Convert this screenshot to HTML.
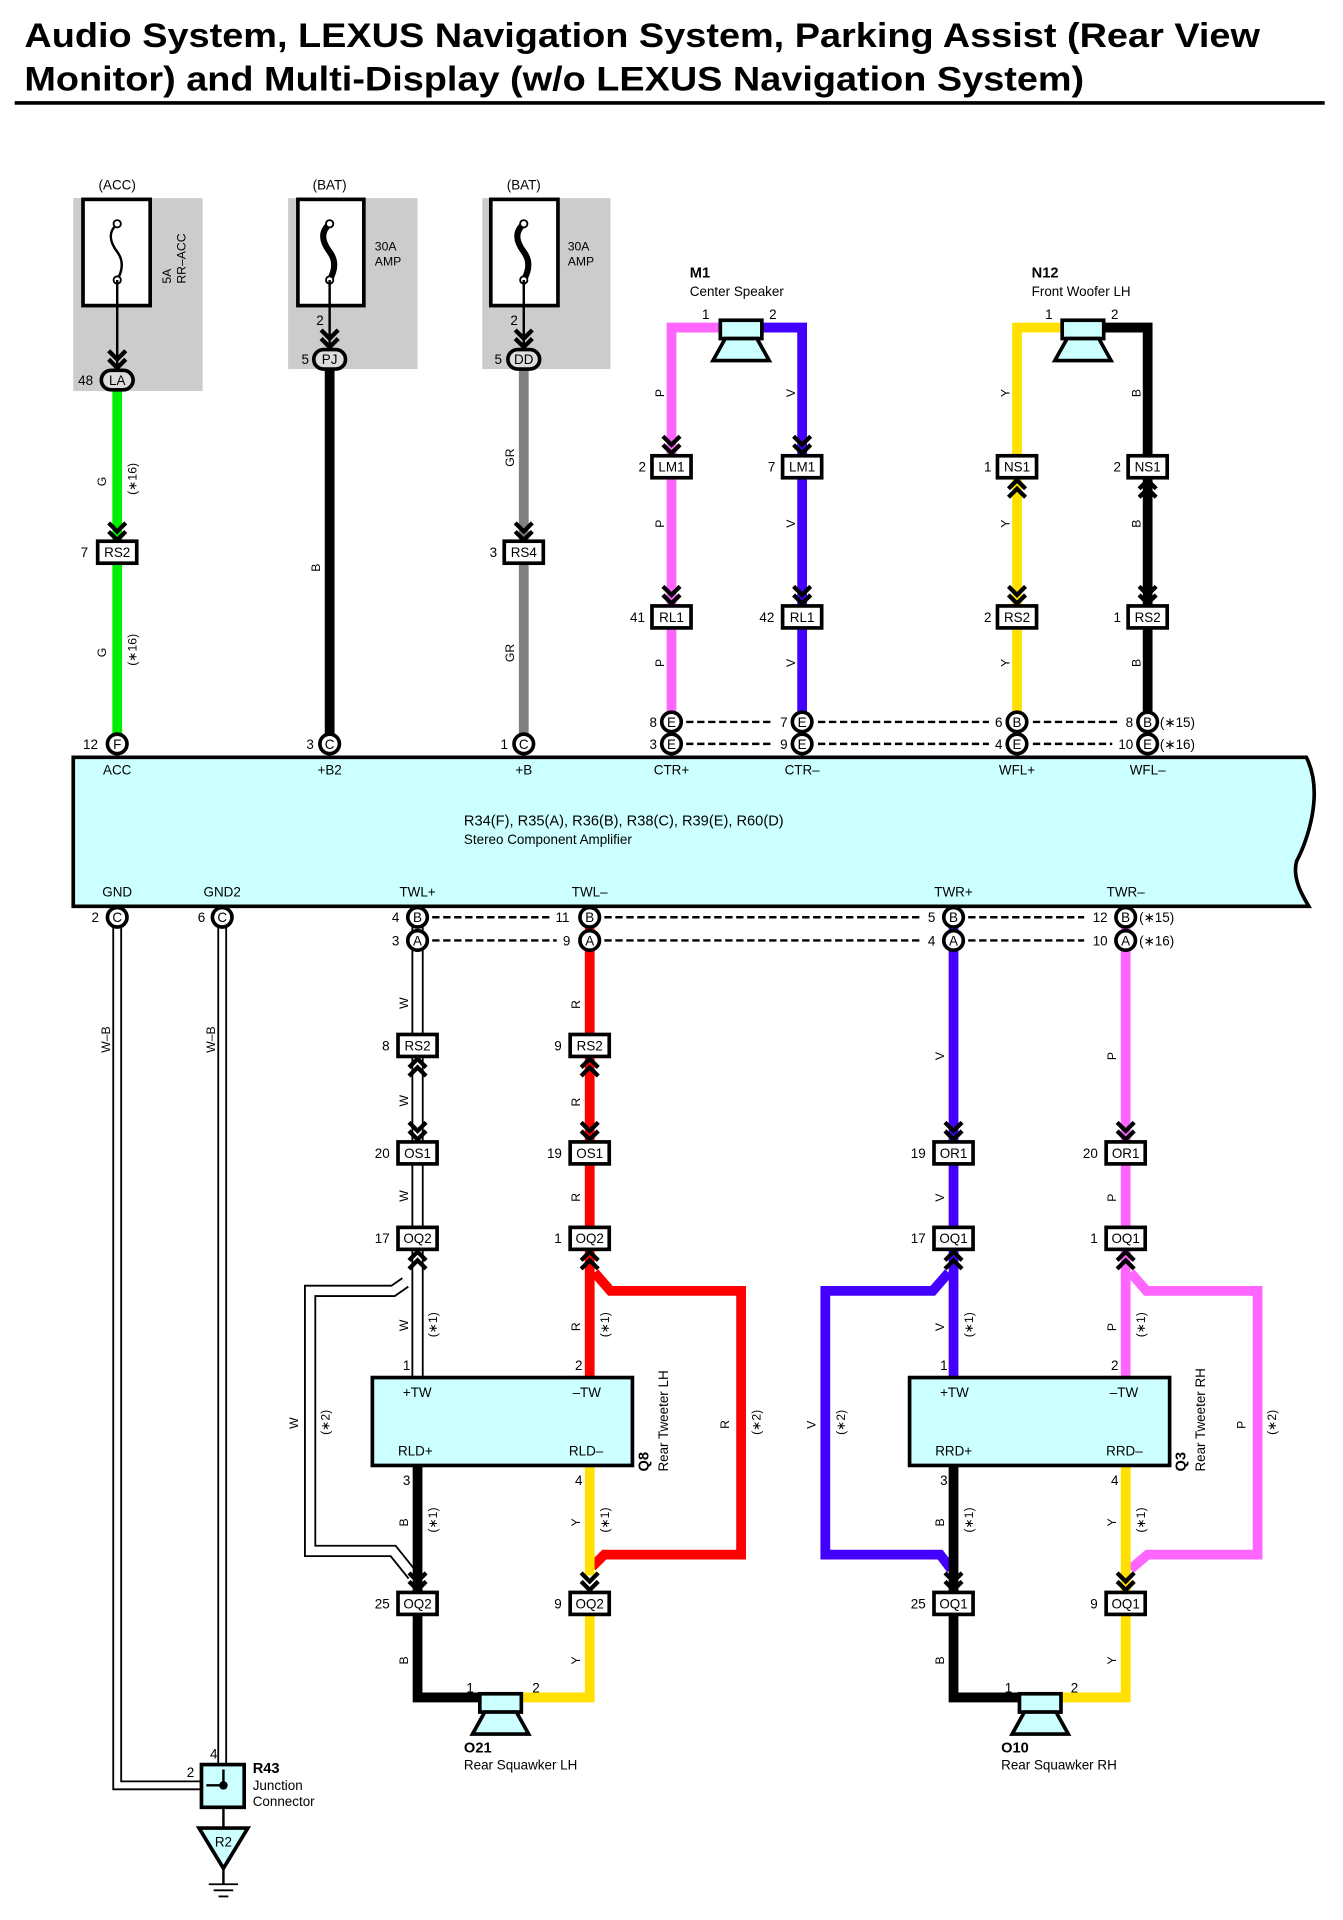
<!DOCTYPE html>
<html><head><meta charset="utf-8"><style>
html,body{margin:0;padding:0;background:#fff}
svg{display:block}
text{font-family:"Liberation Sans",sans-serif;fill:#000}
.t{font-size:11px}
.c{font-size:11px;text-anchor:middle}
.s{font-size:10px}
</style></head><body>
<svg width="1343" height="1920" viewBox="0 0 1100 1572" xmlns="http://www.w3.org/2000/svg">
<defs>
<path id="chd" d="M-7,-17 L0,-10 L7,-17 M-7,-10 L0,-3 L7,-10" fill="none" stroke="#000" stroke-width="3.5"/>
<path id="chu" d="M-7,17 L0,10 L7,17 M-7,10 L0,3 L7,10" fill="none" stroke="#000" stroke-width="3.5"/>
<rect id="cb" x="-16" y="-9" width="32" height="18" fill="#fff" stroke="#000" stroke-width="3"/>
<circle id="cc" r="8" fill="#fff" stroke="#000" stroke-width="3"/>
<rect id="co" x="-13" y="-8" width="26" height="16" rx="8" fill="#ddd" stroke="#000" stroke-width="3"/>
<g id="spk"><rect x="-17" y="-13" width="34" height="15" fill="#ccffff" stroke="#000" stroke-width="3"/><path d="M-13,2 L13,2 L23,20 L-23,20 Z" fill="#ccffff" stroke="#000" stroke-width="3"/></g>
</defs>

<!-- title -->
<text x="20" y="38" textLength="1012" lengthAdjust="spacingAndGlyphs" style="font-size:28px;font-weight:bold">Audio System, LEXUS Navigation System, Parking Assist (Rear View</text>
<text x="20" y="74" textLength="868" lengthAdjust="spacingAndGlyphs" style="font-size:28px;font-weight:bold">Monitor) and Multi-Display (w/o LEXUS Navigation System)</text>
<line x1="12" y1="84" x2="1085" y2="84" stroke="#000" stroke-width="3"/>

<!-- fuses -->
<rect x="60" y="162" width="106" height="158" fill="#ccc"/>
<rect x="236" y="162" width="106" height="140" fill="#ccc"/>
<rect x="395" y="162" width="105" height="140" fill="#ccc"/>
<text class="c" x="96" y="155">(ACC)</text>
<text class="c" x="270" y="155">(BAT)</text>
<text class="c" x="429" y="155">(BAT)</text>
<rect x="68" y="163" width="55" height="87" fill="#fff" stroke="#000" stroke-width="3"/>
<rect x="244" y="163" width="54" height="87" fill="#fff" stroke="#000" stroke-width="3"/>
<rect x="402" y="163" width="55" height="87" fill="#fff" stroke="#000" stroke-width="3"/>
<path d="M96,183 C88,190 90,198 96,206 C102,214 100,222 96,229" fill="none" stroke="#000" stroke-width="2"/>
<circle cx="96" cy="183" r="3" fill="#fff" stroke="#000" stroke-width="1.5"/><circle cx="96" cy="229" r="3" fill="#fff" stroke="#000" stroke-width="1.5"/>
<path d="M270,183 C262,190 264,198 270,206 C276,214 274,222 270,229" fill="none" stroke="#000" stroke-width="5"/>
<path d="M429,183 C421,190 423,198 429,206 C435,214 433,222 429,229" fill="none" stroke="#000" stroke-width="5"/>
<circle cx="270" cy="183" r="3" fill="#fff" stroke="#000" stroke-width="1.5"/><circle cx="270" cy="229" r="3" fill="#fff" stroke="#000" stroke-width="1.5"/>
<circle cx="429" cy="183" r="3" fill="#fff" stroke="#000" stroke-width="1.5"/><circle cx="429" cy="229" r="3" fill="#fff" stroke="#000" stroke-width="1.5"/>
<text class="s" transform="translate(140,232) rotate(-90)">5A</text>
<text class="s" transform="translate(152,232) rotate(-90)">RR–ACC</text>
<text class="s" x="307" y="205">30A</text><text class="s" x="307" y="217">AMP</text>
<text class="s" x="465" y="205">30A</text><text class="s" x="465" y="217">AMP</text>
<line x1="96" y1="229" x2="96" y2="300" stroke="#000" stroke-width="2"/>
<line x1="270" y1="229" x2="270" y2="285" stroke="#000" stroke-width="2"/>
<line x1="429" y1="229" x2="429" y2="285" stroke="#000" stroke-width="2"/>
<text class="t" x="259" y="266">2</text><text class="t" x="418" y="266">2</text>

<!-- top wires -->
<g fill="none" stroke-width="8">
<line x1="96" y1="318" x2="96" y2="602" stroke="#00ee00"/>
<line x1="270" y1="300" x2="270" y2="602" stroke="#000"/>
<line x1="429" y1="300" x2="429" y2="602" stroke="#808080"/>
<path d="M550,585 V268 H590" stroke="#ff66ff"/>
<path d="M657,585 V268 H622" stroke="#4400ff"/>
<path d="M833,585 V268 H870" stroke="#ffe000"/>
<path d="M940,585 V268 H903" stroke="#000"/>
</g>
<use href="#chd" x="96" y="304"/><use href="#chd" x="270" y="287"/><use href="#chd" x="429" y="287"/>
<use href="#co" x="96" y="311"/><use href="#co" x="270" y="294"/><use href="#co" x="429" y="294"/>
<text class="c" x="96" y="315">LA</text><text class="c" x="270" y="298">PJ</text><text class="c" x="429" y="298">DD</text>
<text class="t" x="64" y="315">48</text><text class="t" x="247" y="298">5</text><text class="t" x="405" y="298">5</text>

<use href="#chd" x="96" y="445"/><use href="#cb" x="96" y="452"/><text class="c" x="96" y="456">RS2</text><text class="t" x="66" y="456">7</text>
<use href="#chd" x="429" y="445"/><use href="#cb" x="429" y="452"/><text class="c" x="429" y="456">RS4</text><text class="t" x="401" y="456">3</text>
<text class="s" transform="translate(87,398) rotate(-90)">G</text><text class="s" transform="translate(112,405) rotate(-90)">(∗16)</text>
<text class="s" transform="translate(87,538) rotate(-90)">G</text><text class="s" transform="translate(112,545) rotate(-90)">(∗16)</text>
<text class="s" transform="translate(262,468) rotate(-90)">B</text>
<text class="s" transform="translate(421,382) rotate(-90)">GR</text><text class="s" transform="translate(421,542) rotate(-90)">GR</text>

<!-- speakers top -->
<use href="#spk" x="607" y="275"/><use href="#spk" x="887" y="275"/>
<text x="565" y="227" style="font-size:12px;font-weight:bold">M1</text><text class="t" x="565" y="242">Center Speaker</text>
<text x="845" y="227" style="font-size:12px;font-weight:bold">N12</text><text class="t" x="845" y="242">Front Woofer LH</text>
<text class="t" x="575" y="261">1</text><text class="t" x="630" y="261">2</text>
<text class="t" x="856" y="261">1</text><text class="t" x="910" y="261">2</text>

<use href="#chd" x="550" y="374"/><use href="#chd" x="657" y="374"/>
<use href="#chu" x="833" y="390"/><use href="#chu" x="940" y="390"/>
<use href="#chd" x="550" y="497"/><use href="#chd" x="657" y="497"/><use href="#chd" x="833" y="497"/><use href="#chd" x="940" y="497"/>
<use href="#cb" x="550" y="382"/><use href="#cb" x="657" y="382"/><use href="#cb" x="833" y="382"/><use href="#cb" x="940" y="382"/>
<use href="#cb" x="550" y="505"/><use href="#cb" x="657" y="505"/><use href="#cb" x="833" y="505"/><use href="#cb" x="940" y="505"/>
<text class="c" x="550" y="386">LM1</text><text class="c" x="657" y="386">LM1</text><text class="c" x="833" y="386">NS1</text><text class="c" x="940" y="386">NS1</text>
<text class="c" x="550" y="509">RL1</text><text class="c" x="657" y="509">RL1</text><text class="c" x="833" y="509">RS2</text><text class="c" x="940" y="509">RS2</text>
<text class="t" x="523" y="386">2</text><text class="t" x="629" y="386">7</text><text class="t" x="806" y="386">1</text><text class="t" x="912" y="386">2</text>
<text class="t" x="516" y="509">41</text><text class="t" x="622" y="509">42</text><text class="t" x="806" y="509">2</text><text class="t" x="912" y="509">1</text>
<g class="s">
<text transform="translate(544,325) rotate(-90)">P</text><text transform="translate(544,432) rotate(-90)">P</text><text transform="translate(544,546) rotate(-90)">P</text>
<text transform="translate(651,325) rotate(-90)">V</text><text transform="translate(651,432) rotate(-90)">V</text><text transform="translate(651,546) rotate(-90)">V</text>
<text transform="translate(827,325) rotate(-90)">Y</text><text transform="translate(827,432) rotate(-90)">Y</text><text transform="translate(827,546) rotate(-90)">Y</text>
<text transform="translate(934,325) rotate(-90)">B</text><text transform="translate(934,432) rotate(-90)">B</text><text transform="translate(934,546) rotate(-90)">B</text>
</g>
<g stroke="#000" stroke-width="2" stroke-dasharray="6,3">
<line x1="562" y1="591" x2="634" y2="591"/><line x1="670" y1="591" x2="810" y2="591"/><line x1="846" y1="591" x2="916" y2="591"/>
<line x1="562" y1="609" x2="634" y2="609"/><line x1="670" y1="609" x2="810" y2="609"/><line x1="846" y1="609" x2="911" y2="609"/>
</g>
<use href="#cc" x="550" y="591"/><use href="#cc" x="657" y="591"/><use href="#cc" x="833" y="591"/><use href="#cc" x="940" y="591"/>
<use href="#cc" x="550" y="609"/><use href="#cc" x="657" y="609"/><use href="#cc" x="833" y="609"/><use href="#cc" x="940" y="609"/>
<g class="c"><text x="550" y="595">E</text><text x="657" y="595">E</text><text x="833" y="595">B</text><text x="940" y="595">B</text>
<text x="550" y="613">E</text><text x="657" y="613">E</text><text x="833" y="613">E</text><text x="940" y="613">E</text></g>
<g class="t"><text x="532" y="595">8</text><text x="639" y="595">7</text><text x="815" y="595">6</text><text x="922" y="595">8</text>
<text x="532" y="613">3</text><text x="639" y="613">9</text><text x="815" y="613">4</text><text x="916" y="613">10</text>
<text x="950" y="595">(∗15)</text><text x="950" y="613">(∗16)</text></g>

<use href="#cc" x="96" y="609"/><use href="#cc" x="270" y="609"/><use href="#cc" x="429" y="609"/>
<g class="c"><text x="96" y="613">F</text><text x="270" y="613">C</text><text x="429" y="613">C</text></g>
<g class="t"><text x="68" y="613">12</text><text x="251" y="613">3</text><text x="410" y="613">1</text></g>

<!-- amplifier -->
<path d="M60,620 H1070 C1085,650 1070,690 1062,705 C1058,720 1068,735 1072,742 H60 Z" fill="#ccffff" stroke="#000" stroke-width="3"/>
<g class="c"><text x="96" y="634">ACC</text><text x="270" y="634">+B2</text><text x="429" y="634">+B</text><text x="550" y="634">CTR+</text><text x="657" y="634">CTR–</text><text x="833" y="634">WFL+</text><text x="940" y="634">WFL–</text>
<text x="96" y="734">GND</text><text x="182" y="734">GND2</text><text x="342" y="734">TWL+</text><text x="483" y="734">TWL–</text><text x="781" y="734">TWR+</text><text x="922" y="734">TWR–</text></g>
<text x="380" y="676" style="font-size:12px">R34(F), R35(A), R36(B), R38(C), R39(E), R60(D)</text>
<text class="t" x="380" y="691">Stereo Component Amplifier</text>

<!-- ground wires -->
<g fill="none">
<path d="M96,758 V1462 H183" stroke="#000" stroke-width="8"/><path d="M96,758 V1462 H183" stroke="#fff" stroke-width="5"/>
<path d="M182,758 V1462" stroke="#000" stroke-width="8"/><path d="M182,758 V1462" stroke="#fff" stroke-width="5"/>
</g>
<text class="s" transform="translate(90,862) rotate(-90)">W–B</text><text class="s" transform="translate(176,862) rotate(-90)">W–B</text>
<rect x="165" y="1445" width="35" height="35" fill="#ccffff" stroke="#000" stroke-width="3"/>
<circle cx="183" cy="1462" r="3.5" fill="#000"/>
<path d="M183,1449 V1462 H169" fill="none" stroke="#000" stroke-width="2"/>
<text class="t" x="172" y="1440">4</text><text class="t" x="153" y="1455">2</text>
<text x="207" y="1452" style="font-size:12px;font-weight:bold">R43</text><text class="t" x="207" y="1466">Junction</text><text class="t" x="207" y="1479">Connector</text>
<line x1="183" y1="1480" x2="183" y2="1497" stroke="#000" stroke-width="2"/>
<path d="M163,1497 H203 L183,1530 Z" fill="#ccffff" stroke="#000" stroke-width="3"/>
<text class="c" x="183" y="1512">R2</text>
<line x1="183" y1="1530" x2="183" y2="1543" stroke="#000" stroke-width="2"/>
<g stroke="#000" stroke-width="1.5"><line x1="171" y1="1543" x2="195" y2="1543"/><line x1="175" y1="1548" x2="191" y2="1548"/><line x1="179" y1="1553" x2="187" y2="1553"/></g>

<!-- bottom wires -->
<g fill="none">
<path d="M342,758 V1128" stroke="#000" stroke-width="10"/><path d="M342,758 V1128" stroke="#fff" stroke-width="7"/>
<path d="M332,1050 L322,1057 H254 V1270 H322 L338,1290" stroke="#000" stroke-width="10"/><path d="M332,1050 L322,1057 H254 V1270 H322 L338,1290" stroke="#fff" stroke-width="7"/>
<path d="M483,758 V1128" stroke="#ff0000" stroke-width="8"/>
<path d="M487,1042 L500,1057 H607 V1273 H495 L485,1283" stroke="#ff0000" stroke-width="8"/>
<path d="M342,1200 V1390 H393" stroke="#000" stroke-width="8"/>
<path d="M483,1200 V1290" stroke="#ffe000" stroke-width="8"/>
<path d="M483,1305 V1390 H427" stroke="#ffe000" stroke-width="8"/>
<path d="M781,758 V1128" stroke="#4400ff" stroke-width="8"/>
<path d="M777,1042 L764,1057 H676 V1273 H770 L779,1285" stroke="#4400ff" stroke-width="8"/>
<path d="M922,758 V1128" stroke="#ff66ff" stroke-width="8"/>
<path d="M926,1042 L939,1057 H1030 V1273 H940 L926,1285" stroke="#ff66ff" stroke-width="8"/>
<path d="M781,1200 V1390 H835" stroke="#000" stroke-width="8"/>
<path d="M922,1200 V1390 H869" stroke="#ffe000" stroke-width="8"/>
</g>
<g stroke="#000" stroke-width="2" stroke-dasharray="6,3">
<line x1="354" y1="751" x2="450" y2="751"/><line x1="495" y1="751" x2="755" y2="751"/><line x1="793" y1="751" x2="888" y2="751"/>
<line x1="354" y1="770" x2="456" y2="770"/><line x1="495" y1="770" x2="755" y2="770"/><line x1="793" y1="770" x2="888" y2="770"/>
</g>
<use href="#cc" x="96" y="751"/><use href="#cc" x="182" y="751"/>
<use href="#cc" x="342" y="751"/><use href="#cc" x="483" y="751"/><use href="#cc" x="781" y="751"/><use href="#cc" x="922" y="751"/>
<use href="#cc" x="342" y="770"/><use href="#cc" x="483" y="770"/><use href="#cc" x="781" y="770"/><use href="#cc" x="922" y="770"/>
<g class="c"><text x="96" y="755">C</text><text x="182" y="755">C</text>
<text x="342" y="755">B</text><text x="483" y="755">B</text><text x="781" y="755">B</text><text x="922" y="755">B</text>
<text x="342" y="774">A</text><text x="483" y="774">A</text><text x="781" y="774">A</text><text x="922" y="774">A</text></g>
<g class="t"><text x="75" y="755">2</text><text x="162" y="755">6</text>
<text x="321" y="755">4</text><text x="455" y="755">11</text><text x="760" y="755">5</text><text x="895" y="755">12</text>
<text x="321" y="774">3</text><text x="461" y="774">9</text><text x="760" y="774">4</text><text x="895" y="774">10</text>
<text x="933" y="755">(∗15)</text><text x="933" y="774">(∗16)</text></g>

<!-- bottom connectors -->
<use href="#chu" x="342" y="864"/><use href="#chu" x="483" y="864"/>
<use href="#chd" x="342" y="936"/><use href="#chd" x="483" y="936"/><use href="#chd" x="781" y="936"/><use href="#chd" x="922" y="936"/>
<use href="#chu" x="342" y="1022"/><use href="#chu" x="483" y="1022"/><use href="#chu" x="781" y="1022"/><use href="#chu" x="922" y="1022"/>
<use href="#chd" x="342" y="1305"/><use href="#chd" x="483" y="1305"/><use href="#chd" x="781" y="1305"/><use href="#chd" x="922" y="1305"/>
<use href="#cb" x="342" y="856"/><use href="#cb" x="483" y="856"/>
<use href="#cb" x="342" y="944"/><use href="#cb" x="483" y="944"/><use href="#cb" x="781" y="944"/><use href="#cb" x="922" y="944"/>
<use href="#cb" x="342" y="1014"/><use href="#cb" x="483" y="1014"/><use href="#cb" x="781" y="1014"/><use href="#cb" x="922" y="1014"/>
<use href="#cb" x="342" y="1313"/><use href="#cb" x="483" y="1313"/><use href="#cb" x="781" y="1313"/><use href="#cb" x="922" y="1313"/>
<g class="c">
<text x="342" y="860">RS2</text><text x="483" y="860">RS2</text>
<text x="342" y="948">OS1</text><text x="483" y="948">OS1</text><text x="781" y="948">OR1</text><text x="922" y="948">OR1</text>
<text x="342" y="1018">OQ2</text><text x="483" y="1018">OQ2</text><text x="781" y="1018">OQ1</text><text x="922" y="1018">OQ1</text>
<text x="342" y="1317">OQ2</text><text x="483" y="1317">OQ2</text><text x="781" y="1317">OQ1</text><text x="922" y="1317">OQ1</text></g>
<g class="t">
<text x="313" y="860">8</text><text x="454" y="860">9</text>
<text x="307" y="948">20</text><text x="448" y="948">19</text><text x="746" y="948">19</text><text x="887" y="948">20</text>
<text x="307" y="1018">17</text><text x="454" y="1018">1</text><text x="746" y="1018">17</text><text x="893" y="1018">1</text>
<text x="307" y="1317">25</text><text x="454" y="1317">9</text><text x="746" y="1317">25</text><text x="893" y="1317">9</text></g>

<!-- tweeters -->
<rect x="305" y="1128" width="213" height="72" fill="#ccffff" stroke="#000" stroke-width="3"/>
<rect x="745" y="1128" width="213" height="72" fill="#ccffff" stroke="#000" stroke-width="3"/>
<g class="t"><text x="330" y="1144">+TW</text><text x="469" y="1144">–TW</text><text x="326" y="1192">RLD+</text><text x="466" y="1192">RLD–</text>
<text x="770" y="1144">+TW</text><text x="909" y="1144">–TW</text><text x="766" y="1192">RRD+</text><text x="906" y="1192">RRD–</text>
<text x="330" y="1122">1</text><text x="471" y="1122">2</text><text x="330" y="1216">3</text><text x="471" y="1216">4</text>
<text x="770" y="1122">1</text><text x="910" y="1122">2</text><text x="770" y="1216">3</text><text x="910" y="1216">4</text></g>
<text transform="translate(531,1205) rotate(-90)" style="font-size:12px;font-weight:bold">Q8</text>
<text class="t" transform="translate(547,1205) rotate(-90)">Rear Tweeter LH</text>
<text transform="translate(971,1205) rotate(-90)" style="font-size:12px;font-weight:bold">Q3</text>
<text class="t" transform="translate(987,1205) rotate(-90)">Rear Tweeter RH</text>

<!-- speakers bottom -->
<use href="#spk" x="410" y="1400"/><use href="#spk" x="852" y="1400"/>
<g class="t"><text x="382" y="1386">1</text><text x="436" y="1386">2</text><text x="823" y="1386">1</text><text x="877" y="1386">2</text></g>
<text x="380" y="1435" style="font-size:12px;font-weight:bold">O21</text><text class="t" x="380" y="1449">Rear Squawker LH</text>
<text x="820" y="1435" style="font-size:12px;font-weight:bold">O10</text><text class="t" x="820" y="1449">Rear Squawker RH</text>

<!-- wire labels bottom -->
<g class="s">
<text transform="translate(334,826) rotate(-90)">W</text><text transform="translate(334,906) rotate(-90)">W</text><text transform="translate(334,984) rotate(-90)">W</text><text transform="translate(334,1090) rotate(-90)">W</text>
<text transform="translate(475,826) rotate(-90)">R</text><text transform="translate(475,906) rotate(-90)">R</text><text transform="translate(475,984) rotate(-90)">R</text><text transform="translate(475,1090) rotate(-90)">R</text>
<text transform="translate(773,868) rotate(-90)">V</text><text transform="translate(773,984) rotate(-90)">V</text><text transform="translate(773,1090) rotate(-90)">V</text>
<text transform="translate(914,868) rotate(-90)">P</text><text transform="translate(914,984) rotate(-90)">P</text><text transform="translate(914,1090) rotate(-90)">P</text>
<text transform="translate(334,1250) rotate(-90)">B</text><text transform="translate(475,1250) rotate(-90)">Y</text><text transform="translate(773,1250) rotate(-90)">B</text><text transform="translate(914,1250) rotate(-90)">Y</text>
<text transform="translate(334,1363) rotate(-90)">B</text><text transform="translate(475,1363) rotate(-90)">Y</text><text transform="translate(773,1363) rotate(-90)">B</text><text transform="translate(914,1363) rotate(-90)">Y</text>
<text transform="translate(358,1095) rotate(-90)">(∗1)</text><text transform="translate(499,1095) rotate(-90)">(∗1)</text><text transform="translate(797,1095) rotate(-90)">(∗1)</text><text transform="translate(938,1095) rotate(-90)">(∗1)</text>
<text transform="translate(358,1255) rotate(-90)">(∗1)</text><text transform="translate(499,1255) rotate(-90)">(∗1)</text><text transform="translate(797,1255) rotate(-90)">(∗1)</text><text transform="translate(938,1255) rotate(-90)">(∗1)</text>
<text transform="translate(244,1170) rotate(-90)">W</text><text transform="translate(270,1175) rotate(-90)">(∗2)</text>
<text transform="translate(597,1170) rotate(-90)">R</text><text transform="translate(623,1175) rotate(-90)">(∗2)</text>
<text transform="translate(668,1170) rotate(-90)">V</text><text transform="translate(692,1175) rotate(-90)">(∗2)</text>
<text transform="translate(1020,1170) rotate(-90)">P</text><text transform="translate(1045,1175) rotate(-90)">(∗2)</text>
</g>
</svg>
</body></html>
